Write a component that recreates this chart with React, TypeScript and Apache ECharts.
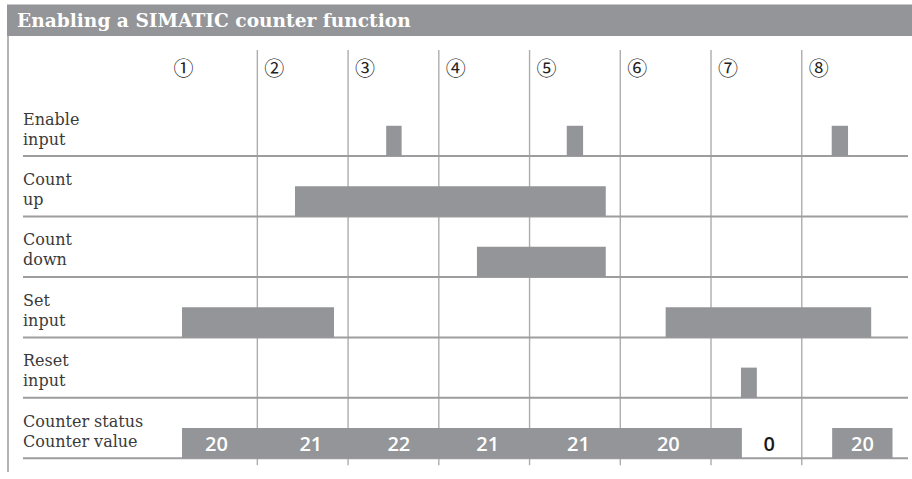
import React, { useEffect, useRef } from "react";
import * as echarts from "echarts";

// ---- data ----
const titleText = "Enabling a SIMATIC counter function";
const rowLabels = [
  ["Enable", "input"],
  ["Count", "up"],
  ["Count", "down"],
  ["Set", "input"],
  ["Reset", "input"],
  ["Counter status", "Counter value"],
];
const stepMarks = ["①", "②", "③", "④", "⑤", "⑥", "⑦", "⑧"];
const stepBoundaries = [1, 2, 3, 4, 5, 6, 7];
const enableInput = [[2.42, 2.59], [4.41, 4.59], [7.33, 7.51]];
const countUp = [[1.415, 4.84]];
const countDown = [[3.42, 4.84]];
const setInput = [[0.17, 1.845], [5.5, 7.765]];
const resetInput = [[6.33, 6.505]];
const counterActive = [[0.17, 6.34], [7.335, 8.0]];
const counterValues = [20, 21, 22, 21, 21, 20, 0, 20];
const counterLabelAt = [0.55, 1.59, 2.56, 3.54, 4.54, 5.53, 6.64, 7.67];

// ---- styles ----
const BAR = "#939598";
const HLINE = "#9d9d9f";
const VLINE = "#adadad";
const TEXT = "#3a3a3a";
const SERIF = '"DejaVu Serif", serif';

export default function App() {
  const ref = useRef<HTMLDivElement>(null);

  useEffect(() => {
    if (!ref.current) return;
    const chart = echarts.init(ref.current, null, { renderer: "svg" });

    const signals = [enableInput, countUp, countDown, setInput, resetInput, counterActive];
    const pulseData: number[][] = [];
    signals.forEach((list, r) => {
      list.forEach(([s, e]) => pulseData.push([s, e, 5 - r]));
    });

    const option: any = {
      animation: false,
      grid: { left: 166.6, right: 19.5, top: 35.08, bottom: 20.7 },
      xAxis: { type: "value", min: 0, max: 8, show: false },
      yAxis: { type: "value", min: 0, max: 7, show: false },
      graphic: [
        {
          type: "rect",
          shape: { x: 7, y: 4, width: 905, height: 32 },
          style: { fill: BAR },
          z: 10,
        },
        {
          type: "line",
          shape: { x1: 7, y1: 4.5, x2: 912, y2: 4.5 },
          style: { stroke: "#c8c8ca", lineWidth: 1 },
          z: 11,
        },
        {
          type: "text",
          x: 17,
          y: 20.5,
          style: {
            text: titleText,
            fill: "#ffffff",
            fontFamily: SERIF,
            fontWeight: "bold",
            fontSize: 18.6,
            align: "left",
            verticalAlign: "middle",
          },
          z: 12,
        },
        {
          type: "line",
          shape: { x1: 8, y1: 36, x2: 8, y2: 472 },
          style: { stroke: "#b4b4b4", lineWidth: 2 },
          z: 10,
        },
      ],
      series: [
        {
          type: "custom",
          name: "steps",
          z: 1,
          data: stepBoundaries.map((b) => [b]),
          renderItem: (params: any, api: any) => {
            const p = api.coord([api.value(0), 0]);
            return {
              type: "line",
              shape: { x1: p[0], y1: 50, x2: p[0], y2: p[1] + 7 },
              style: { stroke: VLINE, lineWidth: 1.4 },
            };
          },
        },
        {
          type: "custom",
          name: "rows",
          z: 2,
          data: rowLabels.map((_, i) => [5 - i, i]),
          renderItem: (params: any, api: any) => {
            const y = api.coord([0, api.value(0)])[1];
            const lines = rowLabels[api.value(1)];
            return {
              type: "group",
              children: [
                {
                  type: "line",
                  shape: { x1: 23, y1: y, x2: 908, y2: y },
                  style: { stroke: HLINE, lineWidth: 2 },
                },
                {
                  type: "text",
                  style: {
                    text: lines[0],
                    x: 23,
                    y: y - 37,
                    fill: TEXT,
                    fontFamily: SERIF,
                    fontSize: 16,
                    align: "left",
                    verticalAlign: "middle",
                  },
                },
                {
                  type: "text",
                  style: {
                    text: lines[1],
                    x: 23,
                    y: y - 17,
                    fill: TEXT,
                    fontFamily: SERIF,
                    fontSize: 16,
                    align: "left",
                    verticalAlign: "middle",
                  },
                },
              ],
            };
          },
        },
        {
          type: "custom",
          name: "marks",
          z: 2,
          data: stepMarks.map((_, i) => [i, i]),
          renderItem: (params: any, api: any) => {
            const p = api.coord([api.value(0) + 0.187, 0]);
            return {
              type: "text",
              style: {
                text: stepMarks[api.value(1)],
                x: p[0],
                y: 67.5,
                fill: "#222222",
                fontFamily: '"Noto Sans CJK JP", "Noto Sans CJK SC", sans-serif',
                fontSize: 20,
                align: "center",
                verticalAlign: "middle",
              },
            };
          },
        },
        {
          type: "custom",
          name: "pulses",
          z: 3,
          data: pulseData,
          renderItem: (params: any, api: any) => {
            const a = api.coord([api.value(0), api.value(2)]);
            const b = api.coord([api.value(1), api.value(2) + 0.5]);
            return {
              type: "rect",
              shape: { x: a[0], y: b[1], width: b[0] - a[0], height: a[1] - b[1] },
              style: { fill: BAR },
            };
          },
        },
        {
          type: "custom",
          name: "counter",
          z: 4,
          data: counterValues.map((v, i) => [counterLabelAt[i], v]),
          renderItem: (params: any, api: any) => {
            const t = api.value(0);
            const p = api.coord([t, 0.24]);
            const inside = counterActive.some(([s, e]) => t >= s && t <= e);
            return {
              type: "text",
              style: {
                text: String(api.value(1)),
                x: p[0],
                y: p[1],
                fill: inside ? "#ffffff" : "#1a1a1a",
                fontFamily: '"Open Sans", sans-serif',
                fontWeight: 600,
                fontSize: 20,
                align: "center",
                verticalAlign: "middle",
              },
            };
          },
        },
      ],
    };

    chart.setOption(option);
    return () => chart.dispose();
  }, []);

  return (
    <div
      ref={ref}
      style={{ position: "fixed", left: 0, top: 0, width: 912, height: 479, background: "#ffffff" }}
    />
  );
}
